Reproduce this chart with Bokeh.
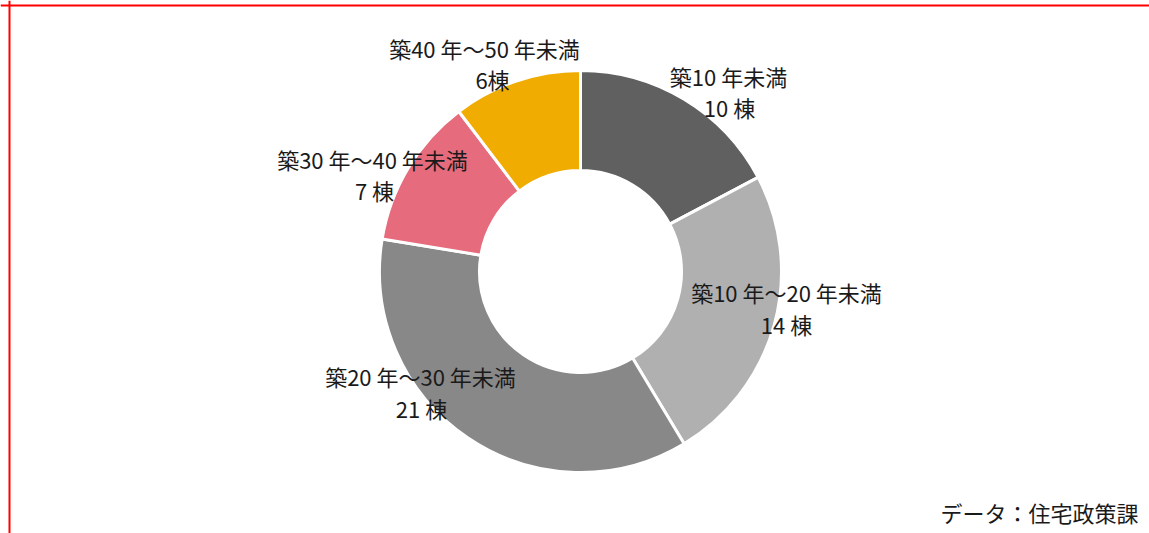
import math
from bokeh.plotting import figure
from bokeh.models import Range1d, Span, ColumnDataSource
from bokeh.core.properties import value
from bokeh.embed import file_html
from bokeh.resources import INLINE

# ---- data ----
categories = ["築10 年未満", "築10 年～20 年未満", "築20 年～30 年未満", "築30 年～40 年未満", "築40 年～50 年未満"]
counts = [10, 14, 21, 7, 6]
count_labels = ["10 棟", "14 棟", "21 棟", "7 棟", "6棟"]
colors = ["#606060", "#b0b0b0", "#888888", "#e66b7c", "#f0ac00"]
source_note = "データ：住宅政策課"

# ---- layout (screen pixels) ----
W, H = 1149, 533
FONT = "Noto Sans CJK JP"

def px(x):
    return x

def py(y):
    return H - y

cx, cy = px(580), py(271)
r_out, r_in = 201, 101

name_pos = [(728, 75), (786, 291), (420, 375), (372, 158), (484, 47)]
count_pos = [(729, 106), (786, 323), (421, 407), (374, 189), (492, 78)]

total = sum(counts)
starts, ends = [], []
cum = 0
for v in counts:
    starts.append(math.pi / 2 - 2 * math.pi * cum / total)
    cum += v
    ends.append(math.pi / 2 - 2 * math.pi * cum / total)

p = figure(width=W, height=H, output_backend="svg", toolbar_location=None,
           x_range=Range1d(0, W), y_range=Range1d(0, H), min_border=0)
p.axis.visible = False
p.grid.visible = False
p.outline_line_color = None
p.background_fill_color = "white"
p.border_fill_color = "white"

src = ColumnDataSource(dict(start=starts, end=ends, color=colors))
p.annular_wedge(x=cx, y=cy, inner_radius=r_in, outer_radius=r_out,
                start_angle="start", end_angle="end", direction="clock",
                fill_color="color", line_color="white", line_width=3, source=src)

lab = ColumnDataSource(dict(
    nx=[px(a) for a, b in name_pos], ny=[py(b) for a, b in name_pos], name=categories,
    cx=[px(a) for a, b in count_pos], cy=[py(b) for a, b in count_pos], cnt=count_labels))
p.text(x="nx", y="ny", text="name", source=lab, text_align="center", text_baseline="middle",
       text_font=value(FONT), text_font_size="22px", text_color="#1a1a1a")
p.text(x="cx", y="cy", text="cnt", source=lab, text_align="center", text_baseline="middle",
       text_font=value(FONT), text_font_size="22px", text_color="#1a1a1a")

p.text(x=[px(1138)], y=[py(511)], text=[source_note], text_align="right", text_baseline="middle",
       text_font=value(FONT), text_font_size="22px", text_color="#1a1a1a")

p.add_layout(Span(location=py(5), dimension="width", line_color="#ff0000", line_width=2))
p.add_layout(Span(location=px(9), dimension="height", line_color="#ff0000", line_width=2))

open("out.html", "w").write(file_html(p, INLINE))
